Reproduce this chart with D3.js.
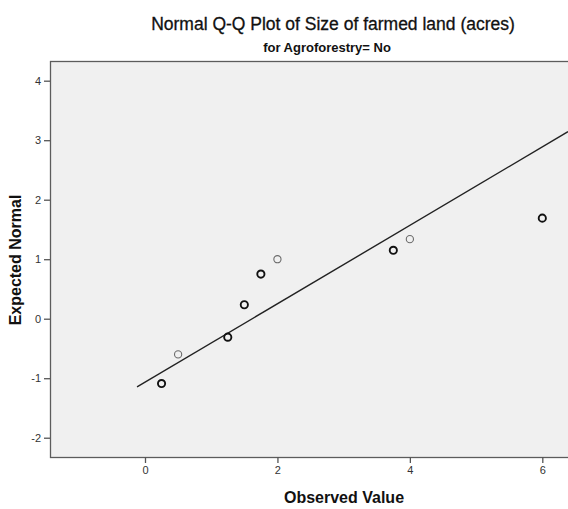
<!DOCTYPE html>
<html>
<head>
<meta charset="utf-8">
<script src="https://cdn.jsdelivr.net/npm/d3@7"></script>
<style>
  html, body { margin: 0; padding: 0; background: #ffffff; }
  svg { display: block; font-family: Arial, "Liberation Sans", sans-serif; }
</style>
</head>
<body>
<svg id="chart" width="568" height="509"></svg>
<script>
// Observed sizes of farmed land (acres) and their expected normal scores
const observedValues = [0.25, 0.5, 1.25, 1.5, 1.75, 2.0, 3.75, 4.0, 6.0];
const expectedNormal = [-1.09, -0.60, -0.31, 0.235, 0.75, 1.0, 1.15, 1.337, 1.69];
// number of cases sharing each point (tied cases overprint)
const caseCounts = [2, 1, 2, 2, 2, 1, 2, 1, 2];

// reference line: expected = (observed - mean) / sd
const sampleMean = 1.62;
const sampleSD = 1.517;
const lineStartX = -0.12;

const xTicks = [0, 2, 4, 6];
const yTicks = [-2, -1, 0, 1, 2, 3, 4];

const titleText = "Normal Q-Q Plot of Size of farmed land (acres)";
const subtitleText = "for Agroforestry= No";
const xLabel = "Observed Value";
const yLabel = "Expected Normal";

const svg = d3.select("#chart");
const plot = { left: 50, top: 61, right: 568, bottom: 457 };

const x = d3.scaleLinear().domain([-1.4346, 6.388]).range([plot.left, plot.right]);
const y = d3.scaleLinear().domain([-2.324, 4.331]).range([plot.bottom, plot.top]);

// plot background and frame (frame runs past the right edge)
svg.append("rect")
  .attr("x", plot.left + 0.5).attr("y", plot.top + 0.5)
  .attr("width", 600).attr("height", plot.bottom - plot.top)
  .attr("fill", "#f0f0f0").attr("stroke", "#5c5c5c").attr("stroke-width", 1.3);

svg.append("clipPath").attr("id", "plotClip")
  .append("rect").attr("x", plot.left + 1).attr("y", plot.top + 1)
  .attr("width", plot.right - plot.left).attr("height", plot.bottom - plot.top - 1);

// axes
const yAxis = d3.axisLeft(y).tickValues(yTicks).tickSize(6).tickPadding(3).tickFormat(d => String(d));
const gy = svg.append("g").attr("transform", `translate(${plot.left},0)`).call(yAxis);
const xAxis = d3.axisBottom(x).tickValues(xTicks).tickSize(6).tickPadding(3).tickFormat(d => String(d));
const gx = svg.append("g").attr("transform", `translate(0,${plot.bottom})`).call(xAxis);
[gx, gy].forEach(g => {
  g.select(".domain").remove();
  g.selectAll(".tick line").attr("stroke", "#555").attr("stroke-width", 1.3);
  g.selectAll(".tick text").attr("fill", "#333").style("font-size", "11px")
    .style("font-family", "Arial, 'Liberation Sans', sans-serif");
});

const g = svg.append("g").attr("clip-path", "url(#plotClip)");

// reference line
const lineEndX = x.domain()[1];
g.append("line")
  .attr("x1", x(lineStartX)).attr("y1", y((lineStartX - sampleMean) / sampleSD))
  .attr("x2", x(lineEndX)).attr("y2", y((lineEndX - sampleMean) / sampleSD))
  .attr("stroke", "#222").attr("stroke-width", 1.4);

// points
const points = observedValues.map((v, i) => ({ v, e: expectedNormal[i], n: caseCounts[i] }));
g.selectAll("circle.pt").data(points).enter().append("circle")
  .attr("class", "pt")
  .attr("cx", d => x(d.v)).attr("cy", d => y(d.e))
  .attr("r", 3.6)
  .attr("fill", "none")
  .attr("stroke", d => d.n > 1 ? "#111" : "#6a6a6a")
  .attr("stroke-width", d => d.n > 1 ? 1.9 : 1.1);

// titles
svg.append("text").attr("x", 333).attr("y", 30).attr("text-anchor", "middle")
  .style("font-size", "17.5px").attr("fill", "#111")
  .attr("stroke", "#111").attr("stroke-width", 0.3).text(titleText);
svg.append("text").attr("x", 327).attr("y", 52).attr("text-anchor", "middle")
  .style("font-size", "13px").style("font-weight", "bold").attr("fill", "#111").text(subtitleText);
svg.append("text").attr("x", 344).attr("y", 503).attr("text-anchor", "middle")
  .style("font-size", "16px").style("font-weight", "bold").attr("fill", "#111").text(xLabel);
svg.append("text").attr("transform", `translate(20.5,260) rotate(-90)`).attr("text-anchor", "middle")
  .style("font-size", "16px").style("font-weight", "bold").attr("fill", "#111").text(yLabel);
</script>
</body>
</html>
